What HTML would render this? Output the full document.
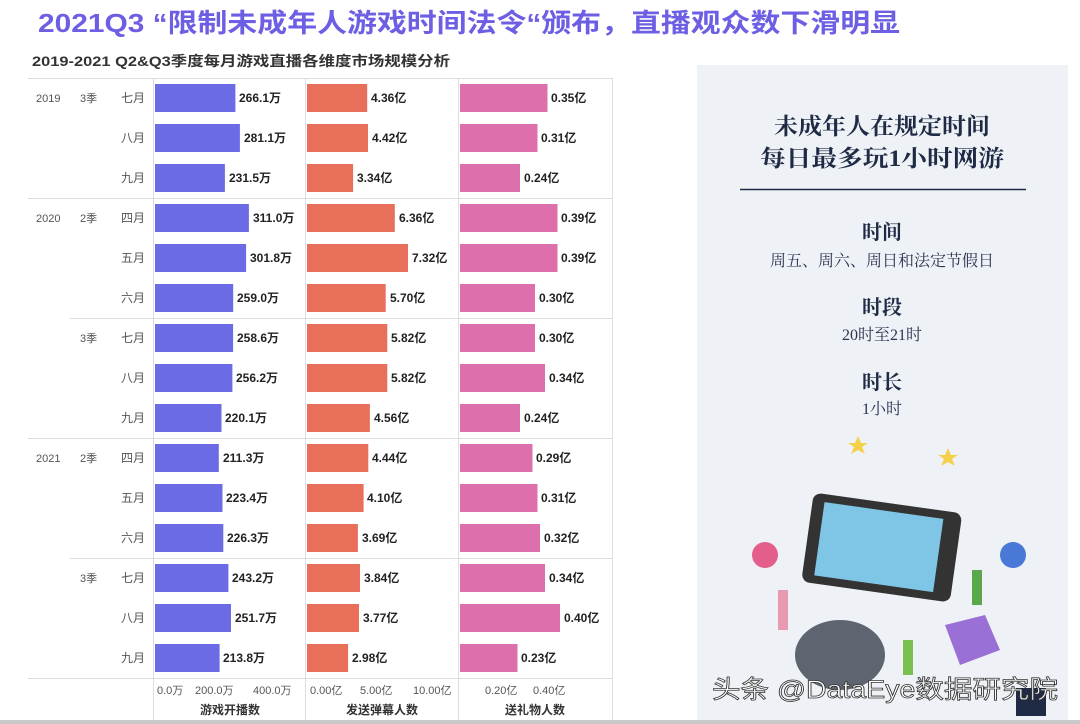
<!DOCTYPE html>
<html><head><meta charset="utf-8"><style>
body{margin:0;width:1080px;height:724px;background:#fff;overflow:hidden;font-family:"Liberation Sans","Noto Sans CJK SC",sans-serif}
</style></head><body>
<svg width="1080" height="724" xmlns="http://www.w3.org/2000/svg" style="position:absolute;left:0;top:0">
<text x="38" y="32" font-size="26" font-weight="bold" fill="#6d5fe3" textLength="862" lengthAdjust="spacingAndGlyphs" font-family="Liberation Sans,Noto Sans CJK SC,sans-serif">2021Q3 “限制未成年人游戏时间法令“颁布，直播观众数下滑明显</text>
<text x="32" y="66" font-size="14" font-weight="bold" fill="#333" textLength="418" lengthAdjust="spacingAndGlyphs" font-family="Liberation Sans,Noto Sans CJK SC,sans-serif">2019-2021  Q2&amp;Q3季度每月游戏直播各维度市场规模分析</text>
<g stroke="#ddd" stroke-width="1">
<line x1="28" y1="78.5" x2="612" y2="78.5"/>
<line x1="28" y1="198.5" x2="612" y2="198.5"/>
<line x1="70" y1="318.5" x2="612" y2="318.5"/>
<line x1="28" y1="438.5" x2="612" y2="438.5"/>
<line x1="70" y1="558.5" x2="612" y2="558.5"/>
<line x1="28" y1="678.5" x2="612" y2="678.5"/>
<line x1="153.5" y1="78" x2="153.5" y2="720"/>
<line x1="305.5" y1="78" x2="305.5" y2="720"/>
<line x1="458.5" y1="78" x2="458.5" y2="720"/>
<line x1="612.5" y1="78" x2="612.5" y2="720"/>
</g>
<g font-size="11" fill="#555" font-family="Liberation Sans,Noto Sans CJK SC,sans-serif">
<text x="36" y="102">2019</text><text x="80" y="102">3季</text>
<text x="36" y="222">2020</text><text x="80" y="222">2季</text>
<text x="80" y="342">3季</text>
<text x="36" y="462">2021</text><text x="80" y="462">2季</text>
<text x="80" y="582">3季</text>
</g>
<g font-size="12" fill="#555" text-anchor="end" font-family="Liberation Sans,Noto Sans CJK SC,sans-serif">
<text x="145" y="102">七月</text><text x="145" y="142">八月</text><text x="145" y="182">九月</text>
<text x="145" y="222">四月</text><text x="145" y="262">五月</text><text x="145" y="302">六月</text>
<text x="145" y="342">七月</text><text x="145" y="382">八月</text><text x="145" y="422">九月</text>
<text x="145" y="462">四月</text><text x="145" y="502">五月</text><text x="145" y="542">六月</text>
<text x="145" y="582">七月</text><text x="145" y="622">八月</text><text x="145" y="662">九月</text>
</g>
<g fill="#6b6be6">
<rect x="155" y="84" width="80.4" height="28"/><rect x="155" y="124" width="84.9" height="28"/><rect x="155" y="164" width="69.9" height="28"/>
<rect x="155" y="204" width="93.9" height="28"/><rect x="155" y="244" width="91.1" height="28"/><rect x="155" y="284" width="78.2" height="28"/>
<rect x="155" y="324" width="78.1" height="28"/><rect x="155" y="364" width="77.4" height="28"/><rect x="155" y="404" width="66.5" height="28"/>
<rect x="155" y="444" width="63.8" height="28"/><rect x="155" y="484" width="67.5" height="28"/><rect x="155" y="524" width="68.3" height="28"/>
<rect x="155" y="564" width="73.4" height="28"/><rect x="155" y="604" width="76.0" height="28"/><rect x="155" y="644" width="64.6" height="28"/>
</g>
<g fill="#e8705a">
<rect x="307" y="84" width="60.2" height="28"/><rect x="307" y="124" width="61.0" height="28"/><rect x="307" y="164" width="46.1" height="28"/>
<rect x="307" y="204" width="87.8" height="28"/><rect x="307" y="244" width="101" height="28"/><rect x="307" y="284" width="78.7" height="28"/>
<rect x="307" y="324" width="80.3" height="28"/><rect x="307" y="364" width="80.3" height="28"/><rect x="307" y="404" width="62.9" height="28"/>
<rect x="307" y="444" width="61.3" height="28"/><rect x="307" y="484" width="56.6" height="28"/><rect x="307" y="524" width="50.9" height="28"/>
<rect x="307" y="564" width="53.0" height="28"/><rect x="307" y="604" width="52.0" height="28"/><rect x="307" y="644" width="41.1" height="28"/>
</g>
<g fill="#dd6fac">
<rect x="460" y="84" width="87.5" height="28"/><rect x="460" y="124" width="77.5" height="28"/><rect x="460" y="164" width="60" height="28"/>
<rect x="460" y="204" width="97.5" height="28"/><rect x="460" y="244" width="97.5" height="28"/><rect x="460" y="284" width="75" height="28"/>
<rect x="460" y="324" width="75" height="28"/><rect x="460" y="364" width="85" height="28"/><rect x="460" y="404" width="60" height="28"/>
<rect x="460" y="444" width="72.5" height="28"/><rect x="460" y="484" width="77.5" height="28"/><rect x="460" y="524" width="80" height="28"/>
<rect x="460" y="564" width="85" height="28"/><rect x="460" y="604" width="100" height="28"/><rect x="460" y="644" width="57.5" height="28"/>
</g>
<g font-size="12" font-weight="bold" fill="#222" font-family="Liberation Sans,Noto Sans CJK SC,sans-serif">
<text x="239" y="102">266.1万</text><text x="244" y="142">281.1万</text><text x="229" y="182">231.5万</text>
<text x="253" y="222">311.0万</text><text x="250" y="262">301.8万</text><text x="237" y="302">259.0万</text>
<text x="237" y="342">258.6万</text><text x="236" y="382">256.2万</text><text x="225" y="422">220.1万</text>
<text x="223" y="462">211.3万</text><text x="226" y="502">223.4万</text><text x="227" y="542">226.3万</text>
<text x="232" y="582">243.2万</text><text x="235" y="622">251.7万</text><text x="223" y="662">213.8万</text>
<text x="371" y="102">4.36亿</text><text x="372" y="142">4.42亿</text><text x="357" y="182">3.34亿</text>
<text x="399" y="222">6.36亿</text><text x="412" y="262">7.32亿</text><text x="390" y="302">5.70亿</text>
<text x="391" y="342">5.82亿</text><text x="391" y="382">5.82亿</text><text x="374" y="422">4.56亿</text>
<text x="372" y="462">4.44亿</text><text x="367" y="502">4.10亿</text><text x="362" y="542">3.69亿</text>
<text x="364" y="582">3.84亿</text><text x="363" y="622">3.77亿</text><text x="352" y="662">2.98亿</text>
<text x="551" y="102">0.35亿</text><text x="541" y="142">0.31亿</text><text x="524" y="182">0.24亿</text>
<text x="561" y="222">0.39亿</text><text x="561" y="262">0.39亿</text><text x="539" y="302">0.30亿</text>
<text x="539" y="342">0.30亿</text><text x="549" y="382">0.34亿</text><text x="524" y="422">0.24亿</text>
<text x="536" y="462">0.29亿</text><text x="541" y="502">0.31亿</text><text x="544" y="542">0.32亿</text>
<text x="549" y="582">0.34亿</text><text x="564" y="622">0.40亿</text><text x="521" y="662">0.23亿</text>
</g>
<g font-size="11" fill="#555" font-family="Liberation Sans,Noto Sans CJK SC,sans-serif">
<text x="157" y="694">0.0万</text><text x="195" y="694">200.0万</text><text x="253" y="694">400.0万</text>
<text x="310" y="694">0.00亿</text><text x="360" y="694">5.00亿</text><text x="413" y="694">10.00亿</text>
<text x="485" y="694">0.20亿</text><text x="533" y="694">0.40亿</text>
</g>
<g font-size="12" font-weight="bold" fill="#333" text-anchor="middle" font-family="Liberation Sans,Noto Sans CJK SC,sans-serif">
<text x="230" y="714">游戏开播数</text><text x="382" y="714">发送弹幕人数</text><text x="535" y="714">送礼物人数</text>
</g>
<rect x="0" y="720" width="1080" height="4" fill="#c9c9c9"/>
<rect x="697" y="65" width="371" height="655" fill="#eef2f6"/>
<g fill="#1f2a44" font-weight="bold" text-anchor="middle" font-family="Liberation Serif,Noto Serif CJK SC,serif">
<text x="882" y="134" font-size="23" textLength="216" lengthAdjust="spacingAndGlyphs">未成年人在规定时间</text>
<text x="882" y="166" font-size="23" textLength="244" lengthAdjust="spacingAndGlyphs">每日最多玩1小时网游</text>
<text x="882" y="239" font-size="20">时间</text>
<text x="882" y="314" font-size="20">时段</text>
<text x="882" y="389" font-size="20">时长</text>
</g>
<line x1="740" y1="189.5" x2="1026" y2="189.5" stroke="#1f2a44" stroke-width="1.5"/>
<g fill="#2a3350" text-anchor="middle" font-size="16" font-family="Liberation Serif,Noto Serif CJK SC,serif">
<text x="882" y="266">周五、周六、周日和法定节假日</text>
<text x="882" y="340">20时至21时</text>
<text x="882" y="414">1小时</text>
</g>
<polygon points="858,436 861,443 868,443 862,447 865,454 858,450 851,454 854,447 848,443 855,443" fill="#f5d14a"/>
<polygon points="948,448 951,455 958,455 952,459 955,466 948,462 941,466 944,459 938,455 945,455" fill="#f5d14a"/>
<g transform="rotate(8 900 540)">
<rect x="808" y="505" width="150" height="90" rx="8" fill="#333"/>
<rect x="820" y="513" width="120" height="74" fill="#7fc6e6"/>
</g>
<ellipse cx="840" cy="655" rx="45" ry="35" fill="#5f6570"/>
<polygon points="945,625 985,615 1000,650 960,665" fill="#9a6fd6"/>
<circle cx="765" cy="555" r="13" fill="#e45e8c"/>
<circle cx="1013" cy="555" r="13" fill="#4a78d6"/>
<rect x="778" y="590" width="10" height="40" fill="#e89ab0"/>
<rect x="972" y="570" width="10" height="35" fill="#5aa84a"/>
<rect x="903" y="640" width="10" height="35" fill="#7ac050"/>
<rect x="1016" y="688" width="30" height="28" fill="#1f2a44"/>
<text x="712" y="698" font-size="25" fill="#fff" stroke="#333" stroke-width="0.8" textLength="346" lengthAdjust="spacingAndGlyphs" font-family="Liberation Sans,Noto Sans CJK SC,sans-serif">头条 @DataEye数据研究院</text>
</svg>
</body></html>
